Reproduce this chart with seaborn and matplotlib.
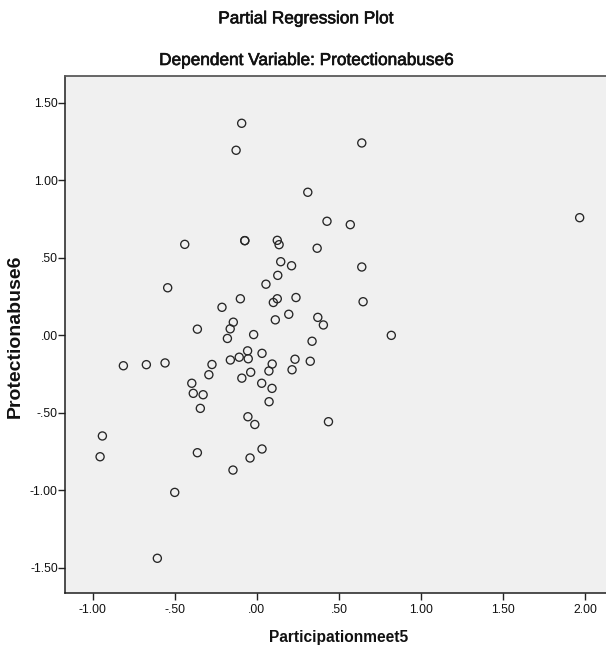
import matplotlib
matplotlib.use("Agg")
import matplotlib.pyplot as plt
import matplotlib.patheffects as pe
from matplotlib.ticker import FuncFormatter
import seaborn as sns
import pandas as pd

# Partial regression residuals: Participationmeet5 (x) vs Protectionabuse6 (y)
participation = [-0.093, -0.127, 0.310, 0.427, -0.440, -0.074, -0.074, 0.124, 0.135, 0.367,
                 0.145, 0.211, 0.127, 0.055, -0.544, -0.101, -0.213, 0.124, 0.100, 0.238,
                 0.194, 0.112, 0.371, 0.405, -0.363, -0.144, -0.163, -0.180, -0.020, 0.336,
                 -0.814, -0.674, -0.560, -0.274, -0.293, -0.162, -0.108, -0.057, -0.053, 0.031,
                 0.093, 0.073, 0.232, 0.214, 0.325, -0.092, -0.038, 0.029, 0.092, 0.074,
                 -0.397, -0.388, -0.328, -0.345, -0.055, -0.013, 0.436, -0.942, -0.956, -0.363,
                 -0.042, 0.031, -0.146, -0.501, -0.607, 0.639, 0.569, 1.967, 0.639, 0.647,
                 0.819]
protection = [1.367, 1.193, 0.922, 0.735, 0.586, 0.610, 0.610, 0.612, 0.584, 0.561,
              0.474, 0.448, 0.386, 0.329, 0.306, 0.235, 0.180, 0.235, 0.211, 0.243,
              0.135, 0.099, 0.115, 0.066, 0.039, 0.084, 0.041, -0.021, 0.004, -0.039,
              -0.197, -0.190, -0.179, -0.189, -0.255, -0.160, -0.142, -0.101, -0.152, -0.117,
              -0.186, -0.231, -0.155, -0.223, -0.168, -0.277, -0.239, -0.310, -0.343, -0.429,
              -0.310, -0.375, -0.384, -0.472, -0.526, -0.576, -0.558, -0.650, -0.784, -0.758,
              -0.792, -0.734, -0.870, -1.014, -1.439, 1.240, 0.713, 0.758, 0.440, 0.216,
              -0.001]

x_ticks = [-1.0, -0.5, 0.0, 0.5, 1.0, 1.5, 2.0]
y_ticks = [-1.5, -1.0, -0.5, 0.0, 0.5, 1.0, 1.5]

title_main = "Partial Regression Plot"
title_sub = "Dependent Variable: Protectionabuse6"
x_label = "Participationmeet5"
y_label = "Protectionabuse6"

df = pd.DataFrame({"x": participation, "y": protection})

sns.set_style("white")
plt.rcParams["font.family"] = ["Liberation Sans", "DejaVu Sans"]

W, H = 606, 660
fig = plt.figure(figsize=(W / 100, H / 100), dpi=100)
fig.patch.set_facecolor("white")

ax_l, ax_r, ax_t, ax_b = 65.3, 611.0, 76.0, 592.7
ax = fig.add_axes([ax_l / W, 1 - ax_b / H, (ax_r - ax_l) / W, (ax_b - ax_t) / H])
ax.set_facecolor("#f0f0f0")

sns.scatterplot(data=df, x="x", y="y", ax=ax, marker="o", s=34,
                facecolor="none", edgecolor="#262626", linewidth=0.95, legend=False)

ax.set_xlim(-1.168, 2.158)
ax.set_ylim(-1.661, 1.672)
ax.set_xticks(x_ticks)
ax.set_yticks(y_ticks)


def spss_fmt(v, _pos):
    s = f"{v:.2f}"
    if s.startswith("0."):
        s = s[1:]
    elif s.startswith("-0."):
        s = "-" + s[2:]
    return s


ax.xaxis.set_major_formatter(FuncFormatter(spss_fmt))
ax.yaxis.set_major_formatter(FuncFormatter(spss_fmt))
ax.tick_params(axis="x", direction="out", length=5.0, width=1.0, color="#222222",
               pad=3, labelsize=8.8, labelcolor="#111111", bottom=True)
ax.tick_params(axis="y", direction="out", length=4.8, width=1.0, color="#222222",
               pad=0.6, labelsize=8.8, labelcolor="#111111", left=True)

for side in ("left", "bottom"):
    ax.spines[side].set_color("#1e1e1e")
    ax.spines[side].set_linewidth(1.1)
ax.spines["top"].set_color("#5a5a5a")
ax.spines["top"].set_linewidth(1.3)
ax.spines["right"].set_visible(False)
ax.set_xlabel("")
ax.set_ylabel("")

heavier = [pe.withStroke(linewidth=0.45, foreground="#111111")]
fig.text(306 / W, 1 - 23.3 / H, title_main, ha="center", va="baseline",
         fontsize=12.4, color="#111111", path_effects=heavier)
fig.text(307 / W, 1 - 65 / H, title_sub, ha="center", va="baseline",
         fontsize=12.4, color="#111111", path_effects=heavier)
fig.text(338.3 / W, 1 - 641.7 / H, x_label, ha="center", va="baseline",
         fontsize=11.2, fontweight="bold", color="#111111")
fig.text(14.8 / W, 1 - 336 / H, y_label, ha="center", va="center", rotation=90,
         fontsize=14, fontweight="bold", color="#111111")

fig.savefig("out.png", dpi=100, facecolor="white")
